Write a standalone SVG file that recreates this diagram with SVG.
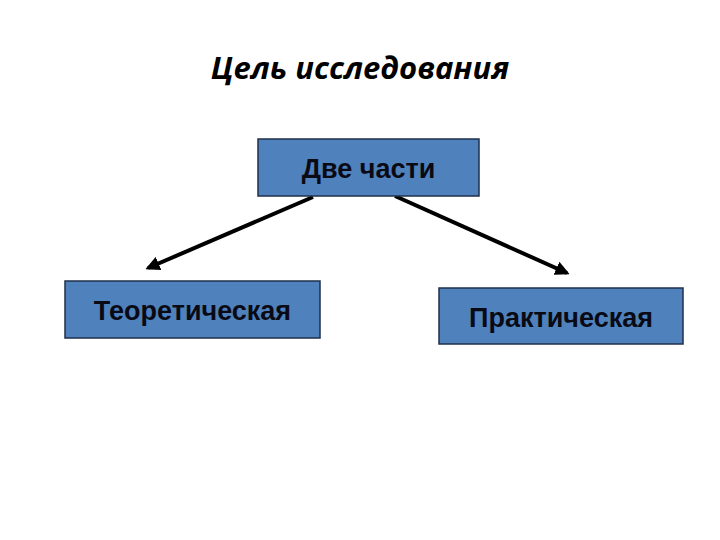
<svg xmlns="http://www.w3.org/2000/svg" width="720" height="540" viewBox="0 0 720 540">
<defs>
<style>
.box{fill:#4F81BD;stroke:#1F2F4A;stroke-width:1.5}
.lbl{font-family:"Liberation Sans",Arial,sans-serif;font-size:27px;font-weight:bold;fill:#0A0A14;text-anchor:middle}
.conn{stroke:#000;stroke-width:4;fill:none;marker-end:url(#ah)}
</style>
<marker id="ah" viewBox="0 0 10 10" refX="8" refY="5" markerWidth="3.6" markerHeight="3.6" orient="auto" markerUnits="strokeWidth">
<path d="M0,0 L10,5 L0,10 Z" fill="#000"/>
</marker>
</defs>
<rect width="720" height="540" fill="#fff"/>
<text x="360" y="79" font-family="'Open Sans','Noto Sans',sans-serif" font-size="31" font-weight="bold" font-style="italic" text-anchor="middle" fill="#000">Цель исследования</text>
<g id="connectors">
<line class="conn" x1="313" y1="197" x2="148" y2="268"/>
<line class="conn" x1="395" y1="196" x2="567" y2="273"/>
</g>
<g id="n-top">
<rect class="box" x="258" y="139" width="221" height="57"/>
<text class="lbl" x="368.5" y="178">Две части</text>
</g>
<g id="n-left">
<rect class="box" x="65" y="281" width="255" height="57"/>
<text class="lbl" x="192.5" y="320">Теоретическая</text>
</g>
<g id="n-right">
<rect class="box" x="439" y="288" width="244" height="56"/>
<text class="lbl" x="561" y="327">Практическая</text>
</g>
</svg>
